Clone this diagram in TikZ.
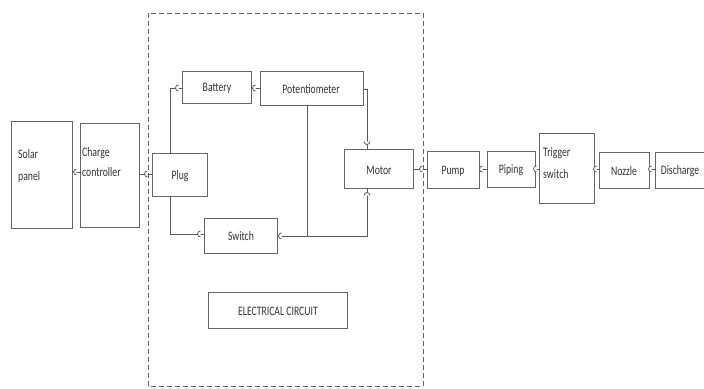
\documentclass[tikz,border=0pt]{standalone}
\usepackage{fontspec}
\setmainfont[FakeStretch=0.75]{Carlito}
\begin{document}
\begin{tikzpicture}[x=1bp,y=-1bp,
  box/.style={draw=black!60,line width=0.8bp,inner sep=0pt,fill=white},
  txt/.style={text=black!80,font=\fontsize{13}{15}\selectfont,inner sep=0pt},
  wire/.style={draw=black!65,line width=0.8bp},
  sock/.pic={\draw[black!65,line width=0.8bp,fill=white] (0.5,-3) arc[start angle=-90,end angle=-270,radius=3] ;}
]
\useasboundingbox (0,0) rectangle (704,388);
% dashed enclosure
\draw[black!60,line width=0.8bp,dash pattern=on 5bp off 3bp] (148,13) rectangle (423,386);
% boxes
\node[box,minimum width=61bp,minimum height=107bp] (solar) at (41.5,174.5) {};
\node[txt,align=left,anchor=west] (solart) at (18,166) {Solar\\[7pt]panel};
\node[box,minimum width=59bp,minimum height=104bp] (charge) at (109.5,175) {};
\node[txt,align=left,anchor=west] (charget) at (82,162) {Charge\\[5pt]controller};
\node[box,minimum width=55bp,minimum height=43bp] (plug) at (179.5,174.5) {};
\node[txt] (plugt) at (180,176) {Plug};
\node[box,minimum width=69bp,minimum height=32bp] (battery) at (216.5,87) {};
\node[txt] (batteryt) at (217,88) {Battery};
\node[box,minimum width=103bp,minimum height=34bp] (pot) at (311.5,88) {};
\node[txt] (pott) at (311,89) {Potentiometer};
\node[box,minimum width=69bp,minimum height=39bp] (motor) at (378.5,168.5) {};
\node[txt] (motort) at (379,170) {Motor};
\node[box,minimum width=73bp,minimum height=35bp] (switch) at (240.5,235.5) {};
\node[txt] (switcht) at (241,236) {Switch};
\node[box,minimum width=139bp,minimum height=36bp] (elec) at (277.5,310) {};
\node[txt] (elect) at (278,311) {ELECTRICAL CIRCUIT};
\node[box,minimum width=52bp,minimum height=37bp] (pump) at (453,169.5) {};
\node[txt] (pumpt) at (453,171) {Pump};
\node[box,minimum width=48bp,minimum height=36bp] (piping) at (511,169) {};
\node[txt] (pipingt) at (511,170) {Piping};
\node[box,minimum width=55bp,minimum height=70bp] (trigger) at (566.5,168) {};
\node[txt,align=left,anchor=west] (triggert) at (543,163) {Trigger\\[7pt]switch};
\node[box,minimum width=50bp,minimum height=36bp] (nozzle) at (624,170) {};
\node[txt] (nozzlet) at (624,171) {Nozzle};
\node[box,minimum width=49bp,minimum height=36bp] (discharge) at (679.5,170) {};
\node[txt] (discharget) at (680,171) {Discharge};
% junction coordinates
\coordinate (pb) at (170,88);
\coordinate (ps) at (170,234);
\coordinate (pr) at (367,89);
\coordinate (mb) at (367,236);
\coordinate (pd) at (307,236);
% wires
\draw[wire] (solar.east |- 0,172) -- (charge.west |- 0,172);
\draw[wire] (charge.east |- 0,174) -- (plug.west |- 0,174);
\draw[wire] (plug.north -| pb) -- (pb) -- (battery.west |- pb);
\draw[wire] (plug.south -| ps) -- (ps) -- (switch.west |- ps);
\draw[wire] (pot.west |- pb) -- (battery.east |- pb);
\draw[wire] (pot.east |- pr) -- (pr) -- (motor.north -| pr);
\draw[wire] (motor.south -| mb) -- (mb) -- (switch.east |- mb);
\draw[wire] (pot.south -| pd) -- (pd);
\draw[wire] (motor.east |- 0,169) -- (pump.west |- 0,169);
\draw[wire] (pump.east |- 0,169) -- (piping.west |- 0,169);
\draw[wire] (piping.east |- 0,169) -- (trigger.west |- 0,169);
\draw[wire] (trigger.east |- 0,169) -- (nozzle.west |- 0,169);
\draw[wire] (nozzle.east |- 0,169) -- (discharge.west |- 0,169);
% sockets
\pic at (76,172) {sock};
\pic at (147,174) {sock};
\pic at (178,88) {sock};
\pic at (200,234) {sock};
\pic at (255,88) {sock};
\pic[rotate=90] at (367,142) {sock};
\pic[rotate=-90] at (367,195) {sock};
\pic at (281,236) {sock};
\pic at (422,169) {sock};
\pic at (482,169) {sock};
\pic at (536,169) {sock};
\pic at (596,169) {sock};
\pic at (651,169) {sock};
\end{tikzpicture}
\end{document}
